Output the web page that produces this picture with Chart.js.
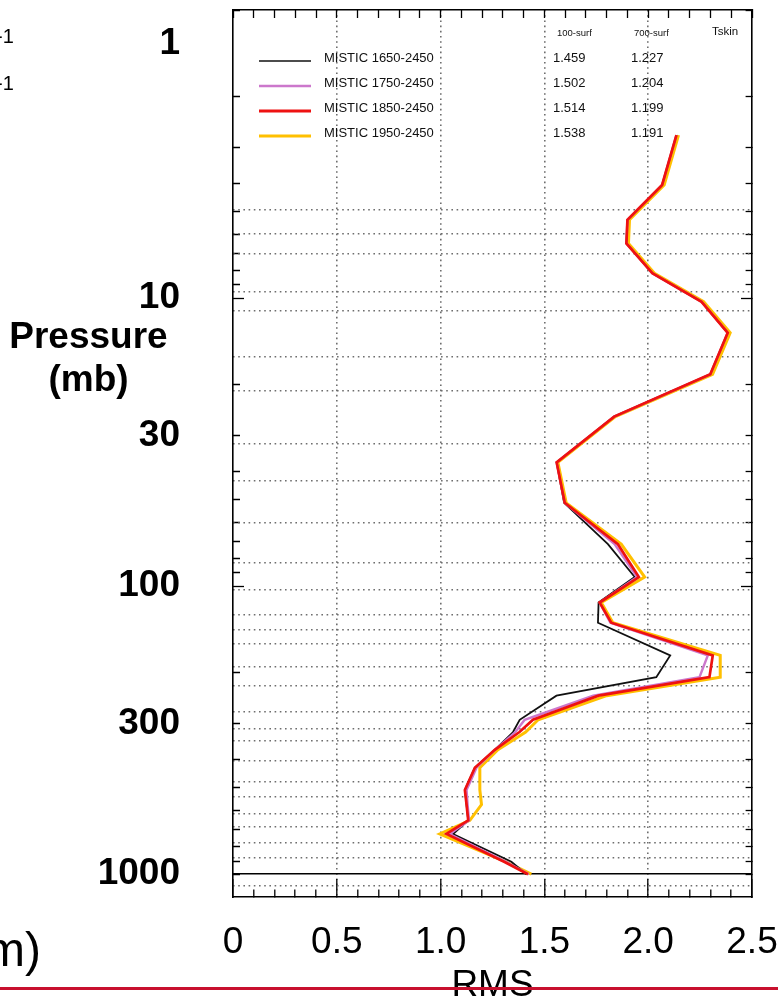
<!DOCTYPE html>
<html>
<head>
<meta charset="utf-8">
<title>MISTIC RMS profiles</title>
<script src="https://cdn.jsdelivr.net/npm/chart.js"></script>
<style>
    body { margin: 0; background: #fff; overflow: hidden; }
    #chart-container { position: relative; width: 778px; height: 1001px; }
    .note { position: absolute; font-family: "Liberation Sans", Arial, sans-serif; color: #000; white-space: nowrap; }
</style>
</head>
<body>
<div id="chart-container">
    <canvas id="chart"></canvas>
    <div class="note" style="left:-4px;top:26px;font-size:20px;line-height:20px">-1</div>
    <div class="note" style="left:-4px;top:73px;font-size:20px;line-height:20px">-1</div>
    <div class="note" style="left:0;top:314px;width:177px;text-align:center;font-weight:bold;font-size:37px;line-height:43px">Pressure<br>(mb)</div>
    <div class="note" style="left:-15px;top:926px;font-size:48px;line-height:48px">m)</div>
    <div style="position:absolute;left:0;top:987px;width:778px;height:3px;background:#c8102e"></div>
</div>
<script>
// pressure levels (mb) of the profile vertices
const pressure = [2.72, 4.05, 5.35, 6.46, 8.2, 10.3, 13.2, 18.4, 25.8, 37.2, 51.4, 71.5, 93, 114, 134, 174, 207, 240, 291, 321, 370, 427, 510, 573, 650, 725, 905, 1000]

const rms1650 = [2.136, 2.067, 1.900, 1.895, 2.020, 2.257, 2.383, 2.299, 1.836, 1.559, 1.595, 1.806, 1.935, 1.761, 1.758, 2.106, 2.039, 1.558, 1.381, 1.349, 1.261, 1.165, 1.117, 1.125, 1.133, 1.060, 1.341, 1.413]
const rms1750 = [2.136, 2.067, 1.900, 1.895, 2.020, 2.257, 2.383, 2.299, 1.836, 1.559, 1.598, 1.838, 1.946, 1.766, 1.818, 2.287, 2.247, 1.735, 1.405, 1.360, 1.261, 1.173, 1.125, 1.130, 1.137, 1.044, 1.315, 1.425]
const rms1850 = [2.136, 2.067, 1.900, 1.895, 2.020, 2.257, 2.383, 2.299, 1.836, 1.559, 1.598, 1.854, 1.955, 1.766, 1.822, 2.311, 2.295, 1.760, 1.445, 1.380, 1.261, 1.165, 1.117, 1.125, 1.133, 1.028, 1.306, 1.421]
const rms1950 = [2.146, 2.077, 1.910, 1.905, 2.030, 2.267, 2.395, 2.310, 1.842, 1.565, 1.605, 1.870, 1.983, 1.774, 1.830, 2.347, 2.347, 1.800, 1.470, 1.410, 1.276, 1.189, 1.189, 1.197, 1.141, 0.996, 1.312, 1.437]

const seriesNames = ['MISTIC 1650-2450', 'MISTIC 1750-2450', 'MISTIC 1850-2450', 'MISTIC 1950-2450']
const seriesColors = ['#111111', '#cc77cc', '#ee1111', '#ffc000']
const statHeads = ['100-surf', '700-surf', 'Tskin']
const stat100 = ['1.459', '1.502', '1.514', '1.538']
const stat700 = ['1.227', '1.204', '1.199', '1.191']

const xTickValues = [0, 0.5, 1, 1.5, 2, 2.5]
const xTickLabels = ['0', '0.5', '1.0', '1.5', '2.0', '2.5']
const yTickValues = [1, 10, 30, 100, 300, 1000]
const yTickLabels = ['1', '10', '30', '100', '300', '1000']
// dotted horizontal lines of the plot, 1000 mb is the solid one
const gridLevels = [4.95, 6.0, 7.0, 9.5, 11.1, 16.0, 21.0, 32.1, 43.2, 60.4, 83.2, 103, 126, 142, 159, 190, 222, 274, 314, 345, 405, 478, 540, 619, 687, 780, 880, 1000, 1100]

const xMinor = []
for (let i = 0; i <= 25; i++) xMinor.push(i / 10)
const pMinor = []
for (const d of [1, 10, 100]) {
    for (let k = 1; k <= 9; k++) pMinor.push(k * d)
}
pMinor.push(1000)

const isHalf = (v) => Math.abs(v * 2 - Math.round(v * 2)) < 1e-6
const isDecade = (v) => v === 10 || v === 100
const FONT = '"Liberation Sans", Arial, sans-serif'
const DOTS = [1.6, 3.6]
const DOT_COLOR = '#6e6e6e'
Chart.defaults.font.family = FONT

const makeSet = (i, values, width, order) => ({
    label: seriesNames[i],
    data: values.map((v, k) => ({x: v, y: pressure[k]})),
    borderColor: seriesColors[i],
    backgroundColor: seriesColors[i],
    borderWidth: width,
    showLine: true,
    pointRadius: 0,
    order: order,
    xAxisID: 'x',
    yAxisID: 'y'
})

// legend and statistics table drawn in the top of the plot
const legendBox = {
    id: 'legendBox',
    afterDatasetsDraw(chart) {
        const {ctx, chartArea: {left, top}} = chart
        const widths = [1.6, 2.6, 3, 3]
        ctx.save()
        ctx.textBaseline = 'middle'
        ctx.fillStyle = '#111'
        ctx.font = '9.5px ' + FONT
        ctx.fillText(statHeads[0], left + 324, top + 23)
        ctx.fillText(statHeads[1], left + 401, top + 23)
        ctx.font = '11.5px ' + FONT
        ctx.fillText(statHeads[2], left + 479, top + 22)
        ctx.font = '13px ' + FONT
        seriesNames.forEach((name, i) => {
            const y = top + 48 + i * 25
            ctx.strokeStyle = seriesColors[i]
            ctx.lineWidth = widths[i]
            ctx.beginPath()
            ctx.moveTo(left + 26, y + 3)
            ctx.lineTo(left + 78, y + 3)
            ctx.stroke()
            ctx.fillText(name, left + 91, y)
            ctx.fillText(stat100[i], left + 320, y)
            ctx.fillText(stat700[i], left + 398, y)
        })
        ctx.restore()
    }
}

const context = document.getElementById('chart').getContext('2d')
const chart = new Chart(context, {
    type: 'scatter',
    data: {
        datasets: [
            makeSet(0, rms1650, 1.8, 2),
            makeSet(1, rms1750, 2.4, 1),
            makeSet(2, rms1850, 2.7, 0),
            makeSet(3, rms1950, 3, 3)
        ]
    },
    options: {
        responsive: true,
        maintainAspectRatio: false,
        animation: false,
        events: [],
        layout: { padding: 0 },
        plugins: {
            legend: { display: false },
            tooltip: { enabled: false }
        },
        scales: {
            x: {
                type: 'linear',
                position: 'bottom',
                min: 0,
                max: 2.5,
                afterBuildTicks: (axis) => { axis.ticks = xMinor.map(v => ({value: v})) },
                afterFit: (axis) => { axis.height = 104; axis.paddingLeft = 0; axis.paddingRight = 0 },
                ticks: {
                    autoSkip: false,
                    maxRotation: 0,
                    minRotation: 0,
                    padding: 42,
                    color: '#000',
                    font: { size: 37 },
                    callback: (v) => {
                        const i = xTickValues.findIndex(t => Math.abs(t - v) < 1e-6)
                        return i < 0 ? '' : xTickLabels[i]
                    }
                },
                grid: {
                    color: (ctx) => (ctx.tick && isHalf(ctx.tick.value) && ctx.tick.value > 0 && ctx.tick.value < 2.5) ? DOT_COLOR : 'rgba(0,0,0,0)',
                    lineWidth: 1.6,
                    tickLength: -18,
                    tickColor: '#000',
                    tickWidth: 1.3,
                    tickBorderDash: (ctx) => (ctx.tick && isHalf(ctx.tick.value)) ? [] : [8, 100]
                },
                border: { display: true, color: '#000', width: 1.6, dash: DOTS, z: 1 },
                title: {
                    display: true,
                    text: 'RMS',
                    color: '#000',
                    font: { size: 37, lineHeight: 1.2 },
                    padding: { top: 0, bottom: -7 }
                }
            },
            xt: {
                type: 'linear',
                position: 'top',
                min: 0,
                max: 2.5,
                afterBuildTicks: (axis) => { axis.ticks = xMinor.map(v => ({value: v})) },
                afterFit: (axis) => { axis.height = 10; axis.paddingLeft = 0; axis.paddingRight = 0 },
                ticks: { display: false },
                grid: {
                    drawOnChartArea: false,
                    tickLength: -8,
                    tickColor: '#000',
                    tickWidth: 1.3
                },
                border: { display: true, color: '#000', width: 1.6, z: 1 }
            },
            y: {
                type: 'logarithmic',
                position: 'left',
                reverse: true,
                min: 1,
                max: 1200,
                afterBuildTicks: (axis) => { axis.ticks = pMinor.map(v => ({value: v})) },
                afterFit: (axis) => { axis.width = 233; axis.paddingTop = 0; axis.paddingBottom = 0 },
                ticks: {
                    autoSkip: false,
                    padding: 64,
                    color: '#000',
                    font: { size: 37, weight: 'bold', lineHeight: 1.8 },
                    callback: (v) => {
                        const i = yTickValues.indexOf(v)
                        if (i < 0) return ''
                        return i === 0 ? ['', yTickLabels[0]] : yTickLabels[i]
                    }
                },
                grid: {
                    drawOnChartArea: false,
                    tickLength: -11,
                    tickColor: '#000',
                    tickWidth: 1.3,
                    tickBorderDash: (ctx) => (ctx.tick && isDecade(ctx.tick.value)) ? [] : [0, 4, 7, 100]
                },
                border: { display: true, color: '#000', width: 1.6, z: 1 }
            },
            yr: {
                type: 'logarithmic',
                position: 'right',
                reverse: true,
                min: 1,
                max: 1200,
                afterBuildTicks: (axis) => { axis.ticks = pMinor.map(v => ({value: v})) },
                afterFit: (axis) => { axis.width = 26; axis.paddingTop = 0; axis.paddingBottom = 0 },
                ticks: { display: false },
                grid: {
                    drawOnChartArea: false,
                    tickLength: -11,
                    tickColor: '#000',
                    tickWidth: 1.3,
                    tickBorderDash: (ctx) => (ctx.tick && isDecade(ctx.tick.value)) ? [] : [7, 100]
                },
                border: { display: true, color: '#000', width: 1.6, z: 1 }
            },
            yg: {
                type: 'logarithmic',
                position: 'right',
                reverse: true,
                min: 1,
                max: 1200,
                afterBuildTicks: (axis) => { axis.ticks = gridLevels.map(v => ({value: v})) },
                afterFit: (axis) => { axis.width = 0; axis.paddingTop = 0; axis.paddingBottom = 0 },
                ticks: { display: false },
                grid: {
                    drawTicks: false,
                    color: (ctx) => (ctx.tick && ctx.tick.value === 1000) ? '#000' : DOT_COLOR,
                    lineWidth: 1.6
                },
                border: {
                    display: false,
                    dash: (ctx) => (ctx.tick && ctx.tick.value === 1000) ? [] : DOTS
                }
            }
        }
    },
    plugins: [legendBox]
})
</script>
</body>
</html>
